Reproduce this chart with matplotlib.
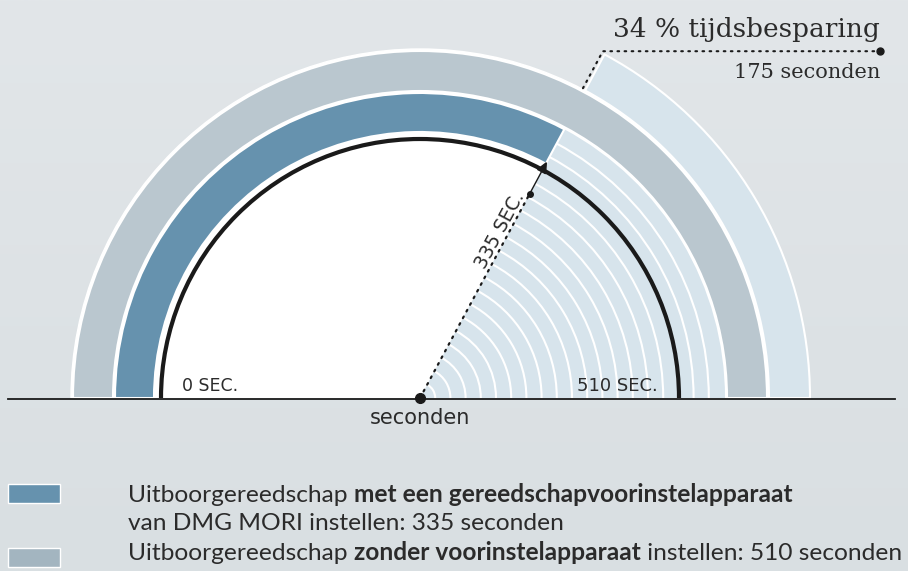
import numpy as np
import matplotlib.pyplot as plt
from matplotlib.patches import Wedge, Arc, Polygon, Rectangle
from matplotlib.colors import LinearSegmentedColormap

# tijden in seconden
totaal_sec = 510
met_apparaat_sec = 335
besparing_sec = totaal_sec - met_apparaat_sec
besparing_pct = 34

labels_as = ["0 SEC.", f"{totaal_sec} SEC."]
legenda = [
    ("Uitboorgereedschap ", "met een gereedschapvoorinstelapparaat", ""),
    ("van DMG MORI instellen: 335 seconden", "", ""),
    ("Uitboorgereedschap ", "zonder voorinstelapparaat", " instellen: 510 seconden"),
]

DONKERBLAUW = "#6692ae"
GRIJS = "#bac7cf"
LICHT = "#d7e4ec"
TEKST = "#2b2b2b"

W, H = 908, 571
fig = plt.figure(figsize=(W / 100, H / 100), dpi=100)
ax = fig.add_axes([0, 0, 1, 1])
ax.set_xlim(0, W)
ax.set_ylim(0, H)
ax.set_aspect("auto")
ax.axis("off")

# achtergrond met een lichte verloop
verloop = LinearSegmentedColormap.from_list("bg", ["#d9dfe2", "#e2e6e9"])
ax.imshow(np.linspace(0, 1, 200).reshape(-1, 1), cmap=verloop, aspect="auto",
          extent=[0, W, 0, H], origin="lower", zorder=0)

cx, cy = 420, H - 398
hoek = 180 * (1 - met_apparaat_sec / totaal_sec)   # grens tussen 335 en 510 sec

# witte basis onder de banden (geeft de witte naden)
ax.add_patch(Wedge((cx, cy), 349, 0, 180, color="white", zorder=1))

# besparingsdeel: lichte ringen
ax.add_patch(Wedge((cx, cy), 305, 0, hoek, color=LICHT, lw=0, zorder=2))
stap = 15.2
for k in range(1, 20):
    ax.add_patch(Arc((cx, cy), 2 * k * stap, 2 * k * stap, theta1=0, theta2=hoek,
                     color="white", lw=1.5, zorder=3))

# banden
ax.add_patch(Wedge((cx, cy), 305, hoek, 180, width=39, facecolor=DONKERBLAUW,
                   edgecolor="white", lw=1.5, zorder=4))
ax.add_patch(Wedge((cx, cy), 347, 0, 180, width=40, facecolor=GRIJS,
                   edgecolor="white", lw=1.5, zorder=4))
ax.add_patch(Wedge((cx, cy), 390, 0, hoek, width=41, facecolor=LICHT,
                   edgecolor="white", lw=1.5, zorder=4))

# zwarte boog en basislijn
ax.add_patch(Arc((cx, cy), 2 * 259, 2 * 259, theta1=0, theta2=180,
                 color="#1a1a1a", lw=3, zorder=5))
ax.plot([8, 895], [cy - 1, cy - 1], color="#1a1a1a", lw=1.3, zorder=6)

# wijzer naar 335 sec
t = np.radians(hoek)
u = np.array([np.cos(t), np.sin(t)])
n = np.array([-np.sin(t), np.cos(t)])
c = np.array([cx, cy])
p_dot = c + 232 * u
ax.plot([cx, p_dot[0]], [cy, p_dot[1]], color="#1a1a1a", lw=1.6,
        linestyle=(0, (0.8, 2.6)), dash_capstyle="round", zorder=6)
p_arc = c + 258 * u
ax.plot([p_dot[0], p_arc[0]], [p_dot[1], p_arc[1]], color="#1a1a1a", lw=1, zorder=6)
ax.plot(*c, "o", color="#1a1a1a", ms=7, zorder=7)
ax.plot(*p_dot, "o", color="#1a1a1a", ms=4, zorder=7)
tip = c + 267 * u
basis = c + 257 * u
ax.add_patch(Polygon([tip, basis + 4.5 * n, basis - 4.5 * n], closed=True,
                     color="#1a1a1a", zorder=7))
pt = c + 186 * u + 9 * n
ax.text(pt[0], pt[1], f"{met_apparaat_sec} SEC.", rotation=hoek, rotation_mode="anchor",
        ha="center", va="center", fontsize=13.5, color=TEKST,
        family="DejaVu Sans", zorder=8)

# aslabels
ax.text(210, H - 386, labels_as[0], ha="center", va="center", fontsize=12.5,
        color=TEKST, family="DejaVu Sans", zorder=8)
ax.text(617, H - 386, labels_as[1], ha="center", va="center", fontsize=13,
        color=TEKST, family="DejaVu Sans", zorder=8)
ax.text(cx, H - 418, "seconden", ha="center", va="center", fontsize=15,
        color=TEKST, family="DejaVu Sans", zorder=8)

# besparing
q1 = c + 350 * u + 3 * n
q2 = c + 392 * u + 3 * n
ax.plot([q1[0], q2[0], 880], [q1[1], q2[1], q2[1]], color="#1a1a1a", lw=1.5,
        linestyle=(0, (0.8, 2.6)), dash_capstyle="round", zorder=6)
ax.plot(880, q2[1], "o", color="#1a1a1a", ms=5, zorder=7)
ax.text(880, q2[1] + 9, f"{besparing_pct} % tijdsbesparing", ha="right", va="bottom",
        fontsize=19, color=TEKST, family="DejaVu Serif", zorder=8)
ax.text(880, q2[1] - 12, f"{besparing_sec} seconden", ha="right", va="top",
        fontsize=15, color=TEKST, family="DejaVu Serif", zorder=8)

# legenda
ax.add_patch(Rectangle((8, H - 503), 52, 19, facecolor=DONKERBLAUW, edgecolor="white",
                       lw=1, zorder=8))
ax.add_patch(Rectangle((8, H - 567), 52, 19, facecolor="#a3b5c0", edgecolor="white",
                       lw=1, zorder=8))
fam = ["Lato", "DejaVu Sans"]
regels_y = [H - 495, H - 524, H - 554]
fs = 16
teksten = []
for (a, b, rest), y in zip(legenda, regels_y):
    rij = [ax.text(128, y, a, ha="left", va="center", fontsize=fs, color=TEKST,
                   family=fam, zorder=8)]
    if b:
        rij.append(ax.annotate(b, xycoords=rij[-1], xy=(1, 0), va="bottom", fontsize=fs,
                               color=TEKST, family=fam, weight="bold", zorder=8))
        if rest:
            rij.append(ax.annotate(rest, xycoords=rij[-1], xy=(1, 0), va="bottom",
                                   fontsize=fs, color=TEKST, family=fam, zorder=8))
    teksten.append(rij)

# lettergrootte zo kiezen dat de laatste regel tot x=903 loopt
fig.canvas.draw()
r = fig.canvas.get_renderer()
breedte = teksten[2][-1].get_window_extent(r).x1 - 128
schaal = (903 - 128) / breedte
for rij in teksten:
    for tx in rij:
        tx.set_fontsize(fs * schaal)

fig.savefig("out.png", dpi=100)
